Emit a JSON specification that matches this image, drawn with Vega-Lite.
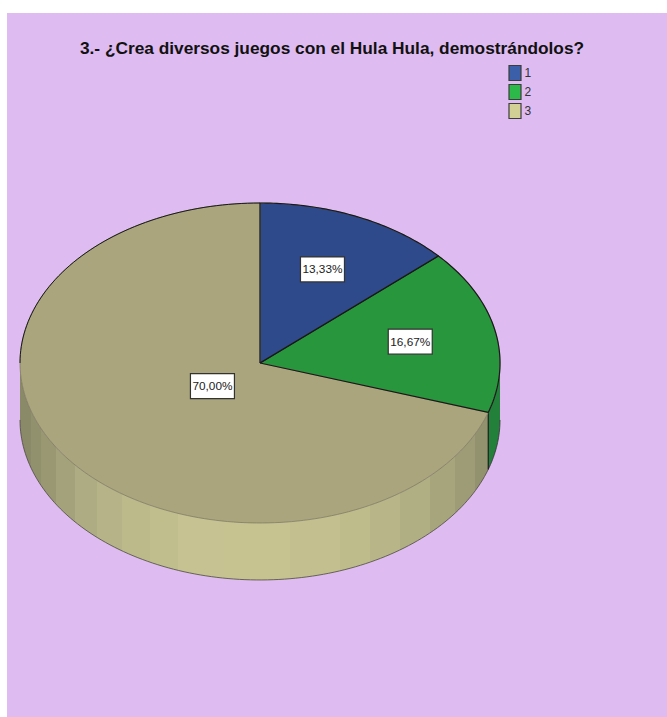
{
  "$schema": "https://vega.github.io/schema/vega-lite/v6.json",
  "autosize": "none",
  "padding": {"left": 7, "top": 13, "right": 0, "bottom": 0},
  "width": 660,
  "height": 704,
  "background": "white",
  "view": {"fill": "#DEBBF0", "stroke": null},
  "title": {
    "text": "3.- ¿Crea diversos juegos con el Hula Hula, demostrándolos?",
    "font": "Liberation Sans",
    "fontSize": 17.3,
    "fontWeight": "bold",
    "color": "#111111",
    "anchor": "middle",
    "frame": "group",
    "orient": "top",
    "offset": -44,
    "dx": -5
  },
  "data": {
    "values": [
      {"category": "1", "value": 13.33},
      {"category": "2", "value": 16.67},
      {"category": "3", "value": 70.0}
    ]
  },
  "transform": [
    {"window": [{"op": "sum", "field": "value", "as": "cumEnd"}], "sort": [{"field": "category"}]},
    {"calculate": "datum.cumEnd - datum.value", "as": "cumStart"}
  ],
  "layer": [
    {
      "mark": {"type": "point", "filled": true, "size": 1},
      "encoding": {
        "x": {"datum": 0, "type": "quantitative", "scale": {"domain": [-1.0542, 1.6958], "nice": false, "zero": false}, "axis": null},
        "y": {"datum": 0, "type": "quantitative", "scale": {"domain": [-2.2125, 2.1875], "nice": false, "zero": false}, "axis": null},
        "color": {
          "field": "category",
          "type": "nominal",
          "scale": {"domain": ["1", "2", "3"], "range": ["#3B5FA8", "#2DB84A", "#D3D096"]},
          "legend": {
            "orient": "none",
            "legendX": 499.5,
            "legendY": 51.5,
            "title": null,
            "symbolType": "M-0.8,-1H0.8V1H-0.8Z",
            "symbolSize": 225,
            "symbolStrokeColor": "#3C3C3C",
            "symbolStrokeWidth": 1.2,
            "symbolOpacity": 1,
            "labelFont": "Liberation Sans",
            "labelFontSize": 12,
            "labelColor": "#333333",
            "labelOffset": 1,
            "rowPadding": -2.5
          }
        }
      }
    },
    {
      "transform": [
        {"filter": "datum.category === '2'"},
        {"calculate": "sequence(0, 21)", "as": "step"},
        {"flatten": ["step"]},
        {"calculate": "(25 + (datum.cumEnd - 25) * datum.step / 20) * PI / 50", "as": "theta"},
        {"calculate": "sin(datum.theta)", "as": "px"},
        {"calculate": "cos(datum.theta)", "as": "py"},
        {"calculate": "datum.py - 0.356", "as": "pyLow"}
      ],
      "mark": {"type": "area", "color": "#22803A", "opacity": 1, "line": {"color": "#333333", "strokeWidth": 0.8}},
      "encoding": {
        "x": {"field": "px", "type": "quantitative", "scale": {"domain": [-1.0542, 1.6958], "nice": false, "zero": false}, "axis": null},
        "y": {"field": "pyLow", "type": "quantitative", "scale": {"domain": [-2.2125, 2.1875], "nice": false, "zero": false}, "axis": null},
        "y2": {"field": "py"}
      }
    },
    {
      "transform": [
        {"filter": "datum.category === '3'"},
        {"calculate": "sequence(0, 121)", "as": "step"},
        {"flatten": ["step"]},
        {"calculate": "(datum.cumStart + (75 - datum.cumStart) * datum.step / 120) * PI / 50", "as": "theta"},
        {"calculate": "sin(datum.theta)", "as": "px"},
        {"calculate": "cos(datum.theta)", "as": "py"},
        {"calculate": "datum.py - 0.356", "as": "pyLow"}
      ],
      "mark": {
        "type": "area",
        "opacity": 1,
        "line": {"color": "#4A4A3C", "strokeWidth": 0.8},
        "color": {
          "gradient": "linear", "x1": 0, "x2": 1, "y1": 0, "y2": 0,
          "stops": [
            {"offset": 0, "color": "#8A8968"}, {"offset": 0.0235, "color": "#8A8968"},
            {"offset": 0.0235, "color": "#92916E"}, {"offset": 0.0449, "color": "#92916E"},
            {"offset": 0.0449, "color": "#999873"}, {"offset": 0.0769, "color": "#999873"},
            {"offset": 0.0769, "color": "#A3A27A"}, {"offset": 0.1175, "color": "#A3A27A"},
            {"offset": 0.1175, "color": "#AEAC82"}, {"offset": 0.1645, "color": "#AEAC82"},
            {"offset": 0.1645, "color": "#B5B387"}, {"offset": 0.2179, "color": "#B5B387"},
            {"offset": 0.2179, "color": "#BCB98B"}, {"offset": 0.2778, "color": "#BCB98B"},
            {"offset": 0.2778, "color": "#C1BE8E"}, {"offset": 0.3376, "color": "#C1BE8E"},
            {"offset": 0.3376, "color": "#C6C291"}, {"offset": 0.438, "color": "#C6C291"},
            {"offset": 0.438, "color": "#C7C391"}, {"offset": 0.5769, "color": "#C7C391"},
            {"offset": 0.5769, "color": "#C3BF8E"}, {"offset": 0.6838, "color": "#C3BF8E"},
            {"offset": 0.6838, "color": "#BFBC8C"}, {"offset": 0.7479, "color": "#BFBC8C"},
            {"offset": 0.7479, "color": "#B8B588"}, {"offset": 0.812, "color": "#B8B588"},
            {"offset": 0.812, "color": "#B0AE83"}, {"offset": 0.8761, "color": "#B0AE83"},
            {"offset": 0.8761, "color": "#A7A57C"}, {"offset": 0.9295, "color": "#A7A57C"},
            {"offset": 0.9295, "color": "#9E9C76"}, {"offset": 0.9722, "color": "#9E9C76"},
            {"offset": 0.9722, "color": "#93926F"}, {"offset": 1, "color": "#93926F"}
          ]
        }
      },
      "encoding": {
        "x": {"field": "px", "type": "quantitative", "scale": {"domain": [-1.0542, 1.6958], "nice": false, "zero": false}, "axis": null},
        "y": {"field": "pyLow", "type": "quantitative", "scale": {"domain": [-2.2125, 2.1875], "nice": false, "zero": false}, "axis": null},
        "y2": {"field": "py"}
      }
    },
    {
      "transform": [
        {"filter": "datum.category === '2'"},
        {"calculate": "sin(datum.cumEnd * PI / 50)", "as": "px"},
        {"calculate": "cos(datum.cumEnd * PI / 50)", "as": "py"},
        {"calculate": "datum.py - 0.356", "as": "pyLow"}
      ],
      "mark": {"type": "rule", "color": "#1A1A1A", "strokeWidth": 1.2},
      "encoding": {
        "x": {"field": "px", "type": "quantitative", "scale": {"domain": [-1.0542, 1.6958], "nice": false, "zero": false}, "axis": null},
        "y": {"field": "py", "type": "quantitative", "scale": {"domain": [-2.2125, 2.1875], "nice": false, "zero": false}, "axis": null},
        "y2": {"field": "pyLow"}
      }
    },
    {
      "transform": [
        {"calculate": "sequence(-1, 182)", "as": "step"},
        {"flatten": ["step"]},
        {"calculate": "(datum.cumStart + datum.value * datum.step / 180) * PI / 50", "as": "theta"},
        {"calculate": "datum.step < 0 || datum.step > 180 ? 0 : sin(datum.theta)", "as": "px"},
        {"calculate": "datum.step < 0 || datum.step > 180 ? 0 : cos(datum.theta)", "as": "py"}
      ],
      "mark": {"type": "line", "stroke": "#77765A", "strokeWidth": 0.7, "strokeJoin": "round"},
      "encoding": {
        "x": {"field": "px", "type": "quantitative", "scale": {"domain": [-1.0542, 1.6958], "nice": false, "zero": false}, "axis": null},
        "y": {"field": "py", "type": "quantitative", "scale": {"domain": [-2.2125, 2.1875], "nice": false, "zero": false}, "axis": null},
        "order": {"field": "step", "type": "quantitative"},
        "fill": {
          "field": "category",
          "type": "nominal",
          "legend": null,
          "scale": {"domain": ["1", "2", "3"], "range": ["#2F4A8A", "#27963C", "#AAA57C"]}
        }
      }
    },
    {
      "transform": [
        {"filter": "datum.category !== '3'"},
        {"calculate": "sequence(-1, 62)", "as": "step"},
        {"flatten": ["step"]},
        {"calculate": "(datum.cumStart + datum.value * datum.step / 60) * PI / 50", "as": "theta"},
        {"calculate": "datum.step < 0 || datum.step > 60 ? 0 : sin(datum.theta)", "as": "px"},
        {"calculate": "datum.step < 0 || datum.step > 60 ? 0 : cos(datum.theta)", "as": "py"}
      ],
      "mark": {"type": "line", "color": "#1A1A1A", "strokeWidth": 1.2, "strokeJoin": "round"},
      "encoding": {
        "x": {"field": "px", "type": "quantitative", "scale": {"domain": [-1.0542, 1.6958], "nice": false, "zero": false}, "axis": null},
        "y": {"field": "py", "type": "quantitative", "scale": {"domain": [-2.2125, 2.1875], "nice": false, "zero": false}, "axis": null},
        "detail": {"field": "category"},
        "order": {"field": "step", "type": "quantitative"}
      }
    },
    {
      "transform": [
        {"filter": "datum.category === '3'"},
        {"calculate": "sequence(0, 61)", "as": "step"},
        {"flatten": ["step"]},
        {"calculate": "(75 + (datum.cumEnd - 75) * datum.step / 60) * PI / 50", "as": "theta"},
        {"calculate": "sin(datum.theta)", "as": "px"},
        {"calculate": "cos(datum.theta)", "as": "py"}
      ],
      "mark": {"type": "line", "color": "#1A1A1A", "strokeWidth": 1, "strokeJoin": "round"},
      "encoding": {
        "x": {"field": "px", "type": "quantitative", "scale": {"domain": [-1.0542, 1.6958], "nice": false, "zero": false}, "axis": null},
        "y": {"field": "py", "type": "quantitative", "scale": {"domain": [-2.2125, 2.1875], "nice": false, "zero": false}, "axis": null},
        "order": {"field": "step", "type": "quantitative"}
      }
    },
    {
      "transform": [
        {"calculate": "(datum.cumStart + datum.value / 2) * PI / 50", "as": "mid"},
        {"calculate": "datum.value >= 50 ? 0.245 : 0.64", "as": "reach"},
        {"calculate": "sin(datum.mid) * datum.reach", "as": "lx"},
        {"calculate": "cos(datum.mid) * datum.reach", "as": "ly"},
        {"calculate": "replace(format(datum.value, '.2f'), '.', ',') + '%'", "as": "label"}
      ],
      "layer": [
        {
          "mark": {"type": "rect", "width": 44, "height": 25, "fill": "white", "stroke": "#333333", "strokeWidth": 1.2},
          "encoding": {
            "x": {"field": "lx", "type": "quantitative", "scale": {"domain": [-1.0542, 1.6958], "nice": false, "zero": false}, "axis": null},
            "y": {"field": "ly", "type": "quantitative", "scale": {"domain": [-2.2125, 2.1875], "nice": false, "zero": false}, "axis": null}
          }
        },
        {
          "mark": {"type": "text", "font": "Liberation Sans", "fontSize": 11.8, "color": "#222222"},
          "encoding": {
            "x": {"field": "lx", "type": "quantitative", "scale": {"domain": [-1.0542, 1.6958], "nice": false, "zero": false}, "axis": null},
            "y": {"field": "ly", "type": "quantitative", "scale": {"domain": [-2.2125, 2.1875], "nice": false, "zero": false}, "axis": null},
            "text": {"field": "label"}
          }
        }
      ]
    }
  ]
}
